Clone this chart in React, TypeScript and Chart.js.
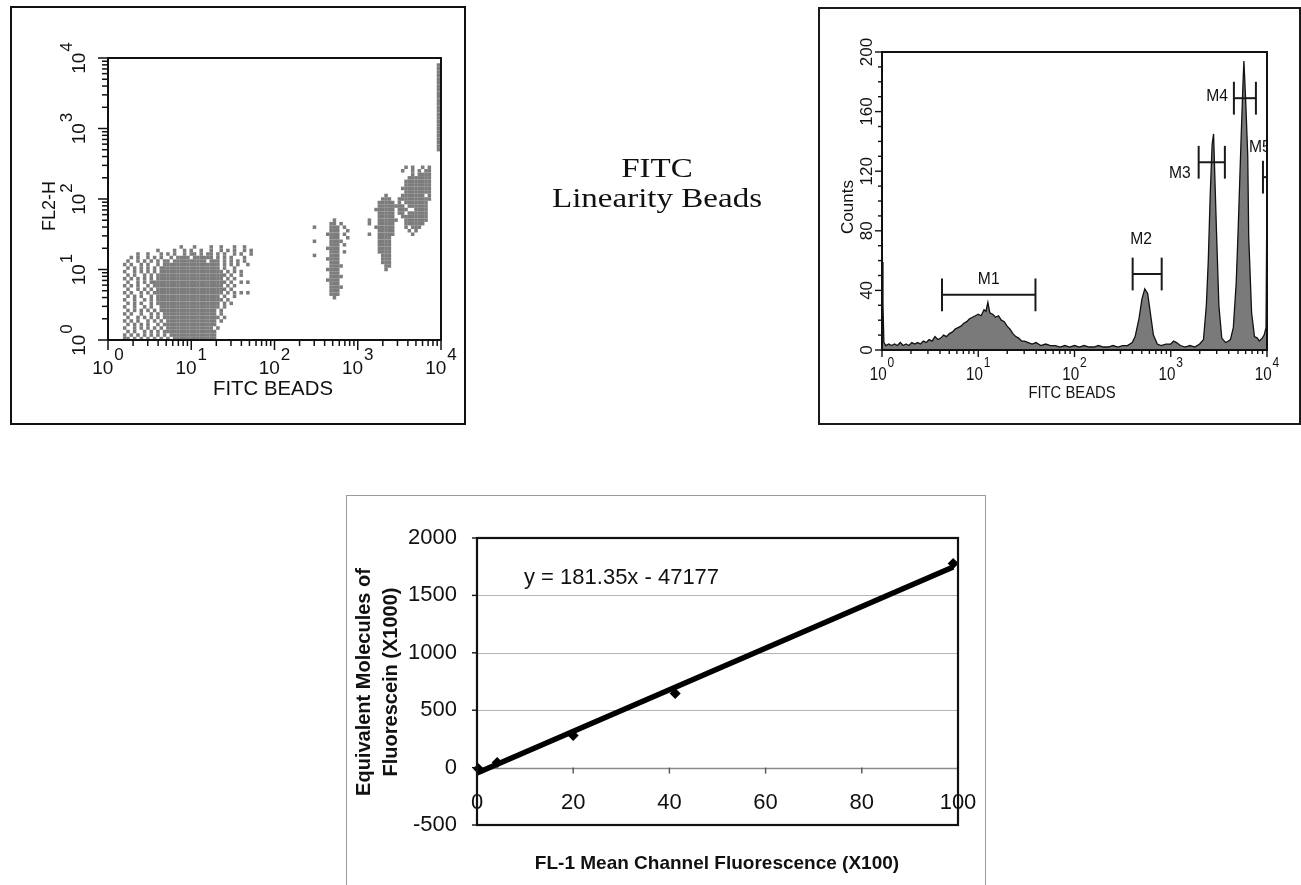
import React, { useEffect, useRef } from 'react';
import { Chart, registerables } from 'chart.js';

Chart.register(...registerables);

const SANS = "'Liberation Sans', Arial, Helvetica, sans-serif";
const SERIF = "'Liberation Serif', 'Times New Roman', serif";

// ---------------- Panel A: FL2-H vs FITC dot plot (density cells, log10 units)
const dotDecades = [0, 1, 2, 3, 4];
const CELL_LOG_X = 0.04;
const CELL_LOG_Y = 0.05;
const dotClusterLogX = [0.16, 2.48, 3.14, 3.5, 3.97];
const dotClusterTopLogY = [1.32, 1.7, 2.05, 2.45, 3.9];
const blobRows = [
  '..................#...#....#..#...#..#...',
  '...........#....#..#.#..#..#..#.#.#..#.#.',
  '.....#..#...#.#.#..#.##.#.##.#.#..#.#..#.',
  '...#.#..#.#.#..#.####.######.#.#.#...#...',
  '..#..#.#.#.#.##.##########.###.#.#.#.#...',
  '.#.#..#.#..#.#################.#.#.#..#..',
  '..#.#.#.#.#.##################.#..#......',
  '.#..#.#.#.#.###################.#.#.#....',
  '..#.#..#.#.#####################.#..#....',
  '.#.#.#.#.#.####################.#.#......',
  '..#..#.#.#######################.#..#.#..',
  '.#.#.#..#.#####################.#.#......',
  '..#..#.#.#.#####################.#.......',
  '.#.#..#.#.#####################.#.#.#.#..',
  '..#.#.#..#.###################.#..#......',
  '.#..#..#.#.####################.#........',
  '..#.#.#..#.###################.#.#.......',
  '.#..#..#.#..##################.#.........',
  '..#.#.#.#.#.#################.#..........',
  '.#.#..#..#.#.################.#..........',
  '..#..#.#.#.#.#################.#.........',
  '.#.#.#..#.#.#.###############.#..........',
  '..#.#.#.#..#.################............',
  '.#..#.#.#.#.#.##############.#...........',
  '..#.#..#.#.#.################............',
  '.#.#.#.#.#.#.#.##############............',
  '.##.#.#.#.#.#.#.#############............',
];
const beadARows = [
  '......#....',
  '.....##.#..',
  '#....###.#.',
  '.....###..#',
  '....####.#.',
  '.....###..#',
  '#....####..',
  '.....###.#.',
  '....####...',
  '.....###.#.',
  '#....###...',
  '....####...',
  '.....###...',
  '.....####..',
  '....####...',
  '.....###...',
  '.....####..',
  '....####...',
  '.....###...',
  '.....####..',
  '.....###...',
  '.....###...',
  '......#....',
];
const beadBRows = [
  '.....#...',
  '....###..',
  '...#####.',
  '...######',
  '..######.',
  '...#####.',
  '...#####.',
  '#..######',
  '#..#####.',
  '..######.',
  '...#####.',
  '#..#####.',
  '...####..',
  '...####..',
  '...####..',
  '...####..',
  '...####..',
  '....###..',
  '....###..',
  '....###..',
  '.....##..',
  '.....#...',
];
const beadCRows = [
  '..#.#..#.#',
  '.#..#.#.##',
  '....#.####',
  '...#######',
  '..########',
  '..########',
  '.#########',
  '..########',
  '.#######.#',
  '##########',
  '#.#######.',
  '##.######.',
  '###..####.',
  '##.######.',
  '.########.',
  '..#######.',
  '..######..',
  '..#.###...',
  '...#.#....',
  '....#.....',
];
const edgeRows = [
  '#', '#', '#', '#', '#', '#', '#', '#', '#', '#', '#', '#', '#',
  '#', '#', '#', '#', '#', '#', '#', '#', '#', '#', '#', '#',
];
const dotClusters = [blobRows, beadARows, beadBRows, beadCRows, edgeRows];

// ---------------- Panel B: FITC histogram (log10 of channel, counts)
const histLogFITC = [
  0.0, 0.01, 0.02, 0.04, 0.07, 0.1, 0.13, 0.16, 0.19, 0.22, 0.25, 0.28, 0.31, 0.34, 0.37, 0.4,
  0.43, 0.46, 0.49, 0.52, 0.55, 0.58, 0.61, 0.64, 0.67, 0.7, 0.73, 0.76, 0.79, 0.82, 0.85, 0.88,
  0.91, 0.94, 0.97, 1.0, 1.03, 1.06, 1.08, 1.1, 1.12, 1.15, 1.18, 1.21, 1.24, 1.27, 1.3, 1.33,
  1.36, 1.39, 1.42, 1.45, 1.48, 1.52, 1.56, 1.6, 1.65, 1.7, 1.75, 1.8, 1.85, 1.9, 1.95, 2.0,
  2.05, 2.1, 2.15, 2.2, 2.25, 2.3, 2.35, 2.4, 2.45, 2.5, 2.55, 2.6, 2.63, 2.67, 2.7, 2.73,
  2.76, 2.79, 2.82, 2.86, 2.9, 2.95, 3.0, 3.03, 3.06, 3.1, 3.15, 3.2, 3.25, 3.3, 3.34, 3.37,
  3.39, 3.41, 3.43, 3.445, 3.46, 3.475, 3.5, 3.53, 3.57, 3.6, 3.62, 3.65, 3.68, 3.7, 3.73, 3.75,
  3.76, 3.78, 3.8, 3.81, 3.84, 3.87, 3.9, 3.92, 3.95, 3.97, 3.99, 4.0,
];
const histCounts = [
  59, 30, 5, 3, 4, 3, 4, 3, 5, 3, 4, 3, 5, 4, 5, 4,
  6, 5, 7, 6, 9, 7, 8, 10, 9, 11, 12, 14, 15, 16, 18, 19,
  21, 22, 23, 24, 23, 27, 26, 32, 25, 24, 22, 23, 20, 19, 16, 14,
  11, 9, 8, 6, 6, 5, 4, 5, 3, 4, 3, 3, 2, 3, 2, 3,
  2, 3, 2, 2, 3, 2, 2, 3, 2, 3, 3, 5, 9, 21, 34, 41,
  38, 24, 10, 4, 3, 4, 4, 6, 5, 3, 2, 3, 2, 4, 7, 30,
  60, 104, 138, 145, 112, 80, 30, 8, 5, 6, 7, 15, 45, 80, 140, 178,
  194, 165, 130, 76, 25, 9, 8, 6, 8, 10, 15, 112,
];
const countTicks = [0, 40, 80, 120, 160, 200];
const gateNames = ['M1', 'M2', 'M3', 'M4', 'M5'];
const gateFrom = [4.2, 402, 1950, 4530, 9080];
const gateTo = [39.3, 805, 3650, 7670, 10000];
const gateLevel = [37, 51, 126, 169, 116];

// ---------------- Panel C: calibration
const fl1Mean = [0.3, 4.2, 20, 41.2, 99];
const meflK = [-10, 44, 279, 645, 1777];
const trendSlope = 18.135; // 181.35 per channel, rescaled to (X100, X1000) units
const trendIntercept = -47.177;
const fl1Ticks = [0, 20, 40, 60, 80, 100];
const meflTicks = [-500, 0, 500, 1000, 1500, 2000];

// ---------------- helpers
type TxtOpts = { align?: CanvasTextAlign; baseline?: CanvasTextBaseline; color?: string; sx?: number; rot?: number };
function drawText(ctx: CanvasRenderingContext2D, s: string, x: number, y: number, font: string, o: TxtOpts = {}) {
  const { align = 'center', baseline = 'alphabetic', color = '#111', sx = 1, rot = 0 } = o;
  ctx.save();
  ctx.translate(x, y);
  if (rot) ctx.rotate(rot);
  ctx.scale(sx, 1);
  ctx.font = font;
  ctx.fillStyle = color;
  ctx.textAlign = align;
  ctx.textBaseline = baseline;
  ctx.fillText(s, 0, 0);
  ctx.restore();
}
function drawPow(ctx: CanvasRenderingContext2D, exp: string, x: number, y: number, baseFont: string, expFont: string, raise: number, sx = 1, rot = 0) {
  ctx.save();
  ctx.translate(x, y);
  if (rot) ctx.rotate(rot);
  ctx.scale(sx, 1);
  ctx.fillStyle = '#111';
  ctx.textAlign = 'left';
  ctx.textBaseline = 'alphabetic';
  ctx.font = baseFont;
  const w1 = ctx.measureText('10').width;
  ctx.font = expFont;
  const w2 = ctx.measureText(exp).width;
  const x0 = -(w1 + 1 + w2) / 2;
  ctx.font = baseFont;
  ctx.fillText('10', x0, 0);
  ctx.font = expFont;
  ctx.fillText(exp, x0 + w1 + 1, -raise);
  ctx.restore();
}
function seg(ctx: CanvasRenderingContext2D, x1: number, y1: number, x2: number, y2: number) {
  ctx.beginPath();
  ctx.moveTo(x1, y1);
  ctx.lineTo(x2, y2);
  ctx.stroke();
}

function useChart(ref: React.RefObject<HTMLCanvasElement>, make: () => any) {
  useEffect(() => {
    if (!ref.current) return;
    const c = new Chart(ref.current, make());
    return () => c.destroy();
  }, []);
}

const baseOpts = (pad: { left: number; top: number; right: number; bottom: number }) => ({
  responsive: false,
  animation: false,
  devicePixelRatio: 1,
  layout: { padding: pad },
  plugins: { legend: { display: false }, tooltip: { enabled: false } },
});

// ---------------- Panel A component
function DotPlot() {
  const ref = useRef<HTMLCanvasElement>(null);
  useChart(ref, () => {
    const pts: { x: number; y: number }[] = [];
    dotClusters.forEach((rows, k) => {
      rows.forEach((row, r) => {
        for (let c = 0; c < row.length; c++) {
          if (row[c] === '#') {
            pts.push({
              x: Math.pow(10, dotClusterLogX[k] + c * CELL_LOG_X),
              y: Math.pow(10, dotClusterTopLogY[k] - r * CELL_LOG_Y),
            });
          }
        }
      });
    });
    const plugin = {
      id: 'dotAxes',
      afterDatasetsDraw(chart: any) {
        const { ctx, chartArea: a } = chart;
        const x = chart.scales.x;
        const y = chart.scales.y;
        ctx.save();
        ctx.strokeStyle = '#111';
        ctx.lineWidth = 2;
        ctx.strokeRect(a.left, a.top, a.right - a.left, a.bottom - a.top);
        ctx.lineWidth = 1.5;
        for (const d of dotDecades) {
          for (let m = 1; m <= 9; m++) {
            if (d === 4 && m > 1) break;
            const v = m * Math.pow(10, d);
            const len = m === 1 ? 10 : 6;
            const px = x.getPixelForValue(v);
            seg(ctx, px, a.bottom, px, a.bottom + len);
            const py = y.getPixelForValue(v);
            seg(ctx, a.left - len, py, a.left, py);
          }
        }
        for (const d of dotDecades) {
          const v = Math.pow(10, d);
          drawPow(ctx, String(d), x.getPixelForValue(v), 374, `19px ${SANS}`, `17px ${SANS}`, 14);
          drawPow(ctx, String(d), 85, y.getPixelForValue(v), `19px ${SANS}`, `17px ${SANS}`, 13, 1, -Math.PI / 2);
        }
        drawText(ctx, 'FITC BEADS', 273, 395, `21px ${SANS}`, { sx: 0.97 });
        drawText(ctx, 'FL2-H', 55, 206, `18px ${SANS}`, { rot: -Math.PI / 2 });
        ctx.restore();
      },
    };
    return {
      type: 'scatter',
      data: {
        datasets: [
          { data: pts, pointStyle: 'rect', pointRadius: 2.5, backgroundColor: '#7c7c7c', borderWidth: 0 },
        ],
      },
      options: {
        ...baseOpts({ left: 108, top: 58, right: 480 - 441, bottom: 440 - 340 }),
        scales: {
          x: { type: 'logarithmic', min: 1, max: 10000, display: false },
          y: { type: 'logarithmic', min: 1, max: 10000, display: false },
        },
      },
      plugins: [plugin],
    };
  });
  return <canvas ref={ref} width={480} height={440} style={{ position: 'absolute', left: 0, top: 0, width: 480, height: 440 }} />;
}

// ---------------- Panel B component
const OXB = 800;
function Histogram() {
  const ref = useRef<HTMLCanvasElement>(null);
  useChart(ref, () => {
    const pts = histLogFITC.map((lx, i) => ({ x: Math.pow(10, lx), y: histCounts[i] }));
    const labelAnchor = ['mid', 'mid', 'left', 'left', 'left'];
    const labelDX = [0, -6, -8, -6, -14];
    const labelDY = [-11, -30, 16, 3, -25];
    const labelAlign: CanvasTextAlign[] = ['center', 'center', 'right', 'right', 'left'];
    const plugin = {
      id: 'histAxes',
      afterDatasetsDraw(chart: any) {
        const { ctx, chartArea: a } = chart;
        const x = chart.scales.x;
        const y = chart.scales.y;
        ctx.save();
        ctx.strokeStyle = '#111';
        ctx.lineWidth = 2;
        ctx.strokeRect(a.left, a.top, a.right - a.left, a.bottom - a.top);
        ctx.lineWidth = 1.4;
        for (const d of dotDecades) {
          for (let m = 1; m <= 9; m++) {
            if (d === 4 && m > 1) break;
            const px = x.getPixelForValue(m * Math.pow(10, d));
            seg(ctx, px, a.bottom, px, a.bottom + (m === 1 ? 7 : 4));
          }
          drawPow(ctx, String(d), x.getPixelForValue(Math.pow(10, d)), 380, `19px ${SANS}`, `15px ${SANS}`, 13, 0.8);
        }
        for (let v = 0; v <= 200; v += 10) {
          const py = y.getPixelForValue(v);
          seg(ctx, a.left - (v % 40 === 0 ? 7 : 4), py, a.left, py);
        }
        for (const v of countTicks) {
          drawText(ctx, String(v), 872 - OXB, y.getPixelForValue(v), `17px ${SANS}`, { rot: -Math.PI / 2 });
        }
        drawText(ctx, 'Counts', 853 - OXB, 207, `17px ${SANS}`, { rot: -Math.PI / 2 });
        drawText(ctx, 'FITC BEADS', 1072 - OXB, 398, `17px ${SANS}`, { sx: 0.87 });
        // gates
        ctx.strokeStyle = '#1a1a1a';
        ctx.lineWidth = 2;
        ctx.beginPath();
        ctx.rect(a.left, 0, a.right - a.left + 1, chart.height);
        ctx.clip();
        gateNames.forEach((name, i) => {
          const x1 = x.getPixelForValue(gateFrom[i]);
          const x2 = Math.min(x.getPixelForValue(gateTo[i]), a.right);
          const yl = y.getPixelForValue(gateLevel[i]);
          const h = y.getPixelForValue(gateLevel[i] - 11) - yl;
          seg(ctx, x1, yl, x2, yl);
          seg(ctx, x1, yl - h, x1, yl + h);
          if (gateTo[i] < 10000) seg(ctx, x2, yl - h, x2, yl + h);
          const lx = (labelAnchor[i] === 'mid' ? (x1 + x2) / 2 : x1) + labelDX[i];
          drawText(ctx, name, lx, yl + labelDY[i], `17px ${SANS}`, { align: labelAlign[i], sx: 0.92 });
        });
        ctx.restore();
      },
    };
    return {
      type: 'line',
      data: {
        datasets: [
          {
            data: pts,
            borderColor: '#111',
            borderWidth: 1.3,
            backgroundColor: '#7a7a7a',
            fill: 'origin',
            pointRadius: 0,
            tension: 0,
          },
        ],
      },
      options: {
        ...baseOpts({ left: 882 - OXB, top: 52, right: 1301 - 1267, bottom: 440 - 350 }),
        scales: {
          x: { type: 'logarithmic', min: 1, max: 10000, display: false },
          y: { type: 'linear', min: 0, max: 200, display: false },
        },
      },
      plugins: [plugin],
    };
  });
  return <canvas ref={ref} width={501} height={440} style={{ position: 'absolute', left: OXB, top: 0, width: 501, height: 440 }} />;
}

// ---------------- Panel C component
const OXC = 340;
const OYC = 490;
function Calibration() {
  const ref = useRef<HTMLCanvasElement>(null);
  useChart(ref, () => {
    const pts = fl1Mean.map((v, i) => ({ x: v, y: meflK[i] }));
    const xEnd = fl1Mean[fl1Mean.length - 1];
    const trend = [
      { x: 0, y: trendIntercept },
      { x: xEnd, y: trendSlope * xEnd + trendIntercept },
    ];
    const plugin = {
      id: 'calAxes',
      beforeDatasetsDraw(chart: any) {
        const { ctx, chartArea: a } = chart;
        const y = chart.scales.y;
        ctx.save();
        for (const v of meflTicks) {
          if (v === -500 || v === 2000) continue;
          const py = Math.round(y.getPixelForValue(v)) + 0.5;
          ctx.strokeStyle = v === 0 ? '#8a8a8a' : '#b4b4b4';
          ctx.lineWidth = v === 0 ? 1.5 : 1.2;
          seg(ctx, a.left, py, a.right, py);
        }
        ctx.restore();
      },
      afterDatasetsDraw(chart: any) {
        const { ctx, chartArea: a } = chart;
        const x = chart.scales.x;
        const y = chart.scales.y;
        ctx.save();
        ctx.strokeStyle = '#111';
        ctx.lineWidth = 2.2;
        ctx.strokeRect(a.left, a.top, a.right - a.left, a.bottom - a.top);
        ctx.lineWidth = 1.4;
        ctx.strokeStyle = '#555';
        const y0 = y.getPixelForValue(0);
        for (const v of fl1Ticks) {
          const px = x.getPixelForValue(v);
          if (v > 0 && v < 100) seg(ctx, px, y0, px, y0 + 6);
          drawText(ctx, String(v), px, 809 - OYC, `22px ${SANS}`);
        }
        ctx.strokeStyle = '#111';
        for (const v of meflTicks) {
          const py = y.getPixelForValue(v);
          seg(ctx, a.left - 5, py, a.left, py);
          drawText(ctx, String(v), 457 - OXC, py, `22px ${SANS}`, { align: 'right', baseline: 'middle' });
        }
        drawText(ctx, 'y = 181.35x - 47177', 524 - OXC, 584 - OYC, `22px ${SANS}`, { align: 'left' });
        drawText(ctx, 'Equivalent Molecules of', 364 - OXC, 682 - OYC, `bold 20px ${SANS}`, { rot: -Math.PI / 2, baseline: 'middle' });
        drawText(ctx, 'Fluorescein (X1000)', 391 - OXC, 682 - OYC, `bold 20px ${SANS}`, { rot: -Math.PI / 2, baseline: 'middle' });
        drawText(ctx, 'FL-1 Mean Channel Fluorescence (X100)', 717 - OXC, 869 - OYC, `bold 19px ${SANS}`);
        ctx.restore();
      },
    };
    return {
      type: 'scatter',
      data: {
        datasets: [
          { data: trend, showLine: true, borderColor: '#000', borderWidth: 5.5, pointRadius: 0, fill: false, order: 1 },
          { data: pts, pointStyle: 'rectRot', pointRadius: 5.5, backgroundColor: '#000', borderWidth: 0, showLine: false, order: 0, clip: false },
        ],
      },
      options: {
        ...baseOpts({ left: 477 - OXC, top: 538 - OYC, right: 680 - (958 - OXC), bottom: 395 - (825 - OYC) }),
        scales: {
          x: { type: 'linear', min: 0, max: 100, display: false },
          y: { type: 'linear', min: -500, max: 2000, display: false },
        },
      },
      plugins: [plugin],
    };
  });
  return <canvas ref={ref} width={680} height={395} style={{ position: 'absolute', left: OXC, top: OYC, width: 680, height: 395 }} />;
}

export default function App() {
  return (
    <div style={{ position: 'absolute', left: 0, top: 0, width: 1301, height: 885, overflow: 'hidden', background: '#fff' }}>
      <div style={{ position: 'absolute', left: 10, top: 6, width: 456, height: 419, border: '2px solid #111', boxSizing: 'border-box' }} />
      <div style={{ position: 'absolute', left: 818, top: 7, width: 483, height: 418, border: '2px solid #1a1a1a', boxSizing: 'border-box' }} />
      <div style={{ position: 'absolute', left: 346, top: 495, width: 640, height: 400, border: '1.5px solid #9a9a9a', boxSizing: 'border-box' }} />
      <DotPlot />
      <Histogram />
      <Calibration />
      <div
        style={{
          position: 'absolute',
          left: 457,
          top: 153,
          width: 400,
          textAlign: 'center',
          fontFamily: SERIF,
          fontSize: 28,
          lineHeight: '30px',
          color: '#111',
          transform: 'scaleX(1.18)',
          transformOrigin: '200px 0',
        }}
      >
        FITC
        <br />
        Linearity Beads
      </div>
    </div>
  );
}
